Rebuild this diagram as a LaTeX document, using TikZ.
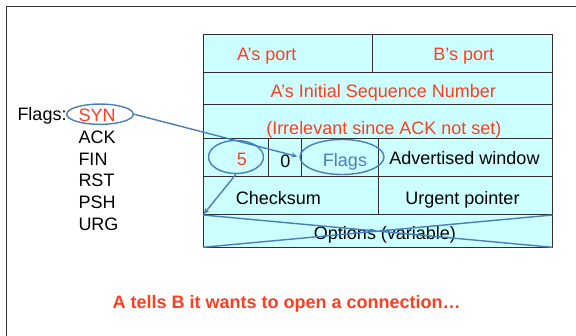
\documentclass[tikz,border=0pt]{standalone}
\usepackage{fontspec}
\setmainfont{Liberation Sans}
\usetikzlibrary{arrows.meta,positioning,shapes.geometric}
\definecolor{synred}{HTML}{FF3D1F}
\definecolor{ringblue}{HTML}{4A7EBB}
\definecolor{hdrcyan}{HTML}{CCFFFF}
\definecolor{gridgray}{HTML}{2E2E2E}
\tikzset{
  field/.style={draw=gridgray, fill=hdrcyan, line width=1pt, inner sep=0pt, outer sep=0pt, minimum width=#1},
  lbl/.style={font=\fontsize{18}{20}\selectfont, inner sep=0pt, text height=12.9pt, text depth=0pt},
  ring/.style={ellipse, draw=ringblue, line width=1.4pt, inner sep=0pt},
  pointer/.style={-{Stealth[length=6pt,width=5pt]}, line width=1.4pt, draw=ringblue}
}

\begin{document}
\begin{tikzpicture}[x=1pt, y=-1pt]
  \useasboundingbox (0,0) rectangle (576,336);
  \draw[line width=1.2pt, black!80] (6.6,336) -- (6.6,6.7) -- (576,6.7);

  % header fields
  \node[field=169.5pt, minimum height=38pt, anchor=north west] (aport) at (203,34.3) {};
  \node[field=180pt, minimum height=38pt, right=0pt of aport] (bport) {};
  \node[field=349.5pt, minimum height=32.7pt, below=0pt of aport.south west, anchor=north west] (isn) {};
  \node[field=349.5pt, minimum height=33.3pt, below=0pt of isn.south west, anchor=north west] (irr) {};
  \node[field=65pt, minimum height=38.4pt, below=0pt of irr.south west, anchor=north west] (hlen) {};
  \node[field=33pt, minimum height=38.4pt, right=0pt of hlen] (resv) {};
  \node[field=77pt, minimum height=38.4pt, right=0pt of resv] (flg) {};
  \node[field=174.5pt, minimum height=38.4pt, right=0pt of flg] (awnd) {};
  \node[field=175pt, minimum height=38.3pt, below=0pt of hlen.south west, anchor=north west] (csum) {};
  \node[field=174.5pt, minimum height=38.3pt, right=0pt of csum] (urg) {};
  \node[field=349.5pt, minimum height=32.3pt, below=0pt of csum.south west, anchor=north west] (opts) {};

  % field texts
  \node[lbl, text=synred] (aporttxt) at (266.7,53.8) {A’s port};
  \node[lbl, text=synred] (bporttxt) at (463.7,53.8) {B’s port};
  \node[lbl, text=synred] (isntxt) at (383.3,91) {A’s Initial Sequence Number};
  \node[lbl, text=synred] (irrtxt) at (383.8,128) {(Irrelevant since ACK not set)};
  \node[lbl, text=synred] (hlentxt) at (242,159.3) {5};
  \node[lbl] (resvtxt) at (285.5,161) {0};
  \node[lbl, text=ringblue] (flgtxt) at (345,160.3) {Flags};
  \node[lbl] (awndtxt) at (464.5,158.3) {Advertised window};
  \node[lbl] (csumtxt) at (278.3,198.3) {Checksum};
  \node[lbl] (urgtxt) at (462.5,198.3) {Urgent pointer};
  \node[lbl] (optstxt) at (385,233.3) {Options (variable)};

  % flag list
  \node[lbl, anchor=west] (flagshead) at (17.3,113.7) {Flags:};
  \node[lbl, anchor=west, text=synred] (syn) at (78.3,115.3) {SYN};
  \node[lbl, below=8.4pt of syn.south west, anchor=north west] (ack) {ACK};
  \node[lbl, below=8.4pt of ack.south west, anchor=north west] (fin) {FIN};
  \node[lbl, below=8.4pt of fin.south west, anchor=north west] (rst) {RST};
  \node[lbl, below=8.4pt of rst.south west, anchor=north west] (psh) {PSH};
  \node[lbl, below=8.4pt of psh.south west, anchor=north west] (urgflag) {URG};

  % marks
  \node[ring, minimum width=66.6pt, minimum height=20.3pt] (synring) at (100,114.2) {};
  \node[ring, minimum width=55pt, minimum height=33pt] (fivering) at (236,157) {};
  \node[ring, minimum width=84pt, minimum height=35pt] (flagsring) at (342,157) {};

  \draw[pointer, shorten >=2pt] (synring.east) -- (flagsring.west);
  \draw[pointer, shorten >=1pt] (fivering.south) -- (opts.north west);
  \draw[ringblue, line width=1.4pt] (opts.north west) -- (opts.south east)
    (opts.south west) -- (opts.north east);

  \node[lbl, font=\fontsize{18}{20}\selectfont\bfseries, text=synred] (note) at (286.6,301.7) {A tells B it wants to open a connection…};
\end{tikzpicture}
\end{document}
